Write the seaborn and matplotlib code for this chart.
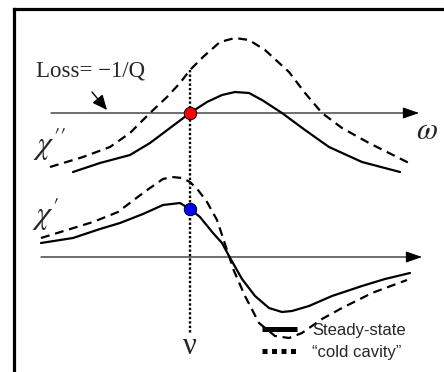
import matplotlib
matplotlib.use("Agg")
import matplotlib.pyplot as plt
from matplotlib.lines import Line2D
import seaborn as sns

sns.set_style("white")
plt.rcParams["font.family"] = ["Liberation Sans", "DejaVu Sans"]
plt.rcParams["mathtext.fontset"] = "stix"

# Frequency (omega) measured from the lasing frequency nu, arbitrary units
nu = 0.0

# Imaginary part chi'' (gain/loss), steady-state and cold cavity
omega_im_ss = [-1.17, -0.90, -0.60, -0.40, -0.20, 0.00, 0.17, 0.32, 0.45, 0.59,
               0.72, 0.92, 1.15, 1.39, 1.72, 2.10]
chi_im_ss = [-1.18, -1.00, -0.84, -0.60, -0.30, 0.00, 0.22, 0.36, 0.42, 0.40,
             0.26, 0.00, -0.34, -0.68, -0.98, -1.18]
omega_im_cold = [-1.40, -1.07, -0.80, -0.60, -0.40, -0.23, -0.10, 0.00, 0.13, 0.30,
                 0.45, 0.59, 0.75, 0.99, 1.15, 1.32, 1.52, 1.79, 2.19]
chi_im_cold = [-1.08, -0.88, -0.68, -0.40, 0.00, 0.32, 0.60, 0.86, 1.12, 1.42,
               1.50, 1.46, 1.26, 0.82, 0.40, 0.00, -0.30, -0.60, -1.00]

# Real part chi' (dispersion), steady-state and cold cavity
omega_re_ss = [-1.49, -1.17, -0.90, -0.70, -0.47, -0.27, -0.10, 0.00, 0.10, 0.23,
               0.32, 0.39, 0.52, 0.65, 0.79, 0.92, 1.02, 1.19, 1.42, 1.72, 1.95, 2.20]
chi_re_ss = [0.28, 0.38, 0.56, 0.68, 0.86, 1.04, 1.08, 0.96, 0.80, 0.48,
             0.28, 0.02, -0.44, -0.78, -1.02, -1.10, -1.08, -0.98, -0.78, -0.58, -0.44, -0.32]
omega_re_cold = [-1.49, -1.23, -0.97, -0.72, -0.55, -0.40, -0.27, -0.18, -0.08, 0.00,
                 0.08, 0.17, 0.27, 0.44, 0.55, 0.69, 0.85, 0.99, 1.12, 1.32, 1.52, 1.82, 2.17]
chi_re_cold = [0.38, 0.54, 0.70, 0.90, 1.16, 1.38, 1.56, 1.60, 1.58, 1.50,
               1.34, 1.10, 0.74, -0.28, -0.78, -1.32, -1.58, -1.62, -1.52, -1.24, -1.02, -0.72, -0.46]

# Vertical placement of the chi' panel below the chi'' panel
re_offset = -2.88

fig = plt.figure(figsize=(4.44, 3.72), dpi=100)
ax = fig.add_axes([0, 0, 1, 1])
ax.set_xlim(-1.9, 2.54)
ax.set_ylim(-5.18, 2.26)
ax.axis("off")

# Frame (left and top edges)
fig.add_artist(Line2D([13.5 / 444, 13.5 / 444], [0, 1 - 8.5 / 372], color="black",
                      lw=2.3, solid_capstyle="projecting", transform=fig.transFigure))
fig.add_artist(Line2D([13.5 / 444, 1], [1 - 8.5 / 372, 1 - 8.5 / 372], color="black",
                      lw=2.3, solid_capstyle="projecting", transform=fig.transFigure))

# Frequency axes with arrowheads
arrow_style = dict(arrowstyle="-|>,head_length=1.0,head_width=0.35", color="black",
                   lw=0.8, mutation_scale=10, shrinkA=0, shrinkB=0)
ax.annotate("", xy=(2.29, 0), xytext=(-1.39, 0), arrowprops=arrow_style)
ax.annotate("", xy=(2.32, re_offset), xytext=(-1.49, re_offset), arrowprops=arrow_style)

dash = (0, (4, 2.6))
curve_kw = dict(ax=ax, sort=False, color="black", lw=1.6, solid_joinstyle="round")
sns.lineplot(x=omega_im_ss, y=chi_im_ss, **curve_kw)
sns.lineplot(x=omega_im_cold, y=chi_im_cold, linestyle=dash, **curve_kw)
sns.lineplot(x=omega_re_ss, y=[v + re_offset for v in chi_re_ss], **curve_kw)
sns.lineplot(x=omega_re_cold, y=[v + re_offset for v in chi_re_cold], linestyle=dash,
             **curve_kw)

# Dotted line marking the lasing frequency nu
nu_top = chi_im_cold[omega_im_cold.index(nu)]
ax.plot([nu, nu], [nu_top, -4.4], color="black", lw=1.7, linestyle=(0, (1, 0.9)),
        dash_capstyle="butt")

# Operating points
sns.scatterplot(x=[nu], y=[chi_im_ss[omega_im_ss.index(nu)]], ax=ax, s=80, color="red",
                edgecolor="black", linewidth=0.7, zorder=5)
sns.scatterplot(x=[nu], y=[chi_re_ss[omega_re_ss.index(nu)] + re_offset], ax=ax, s=80,
                color="blue", edgecolor="black", linewidth=0.7, zorder=5)

# Labels
serif = ["Liberation Serif", "DejaVu Serif"]
ax.text(-1.54, 0.84, "Loss= \u22121/Q", family=serif, fontsize=16.5, va="center", ha="left")
ax.annotate("", xy=(-0.83, 0.06), xytext=(-0.98, 0.42),
            arrowprops=dict(arrowstyle="-|>,head_length=0.9,head_width=0.4", color="black",
                            lw=1.0, mutation_scale=10, shrinkA=0, shrinkB=0))
ax.text(-1.40, -0.62, r"$\chi''$", fontsize=23, ha="center", va="center")
ax.text(-1.45, -2.02, r"$\chi'$", fontsize=23, ha="center", va="center")
ax.text(2.37, -0.36, r"$\omega$", fontsize=22, ha="center", va="center")
ax.text(nu, -4.68, "\u03bd", family=serif, fontsize=22, ha="center", va="center")

# Legend
handles = [Line2D([], [], color="black", lw=3.6, solid_capstyle="butt"),
           Line2D([], [], color="black", lw=3.6, linestyle=(0, (1, 0.9)), dash_capstyle="butt")]
ax.legend(handles=handles, labels=["Steady-state", "\u201ccold cavity\u201d"],
          loc="upper left", bbox_to_anchor=(262 / 444, 1 - 323 / 372), frameon=False,
          fontsize=12, handlelength=2.1, handletextpad=0.9, labelspacing=0.42,
          borderpad=0, borderaxespad=0)

fig.savefig("out.png", dpi=100)
